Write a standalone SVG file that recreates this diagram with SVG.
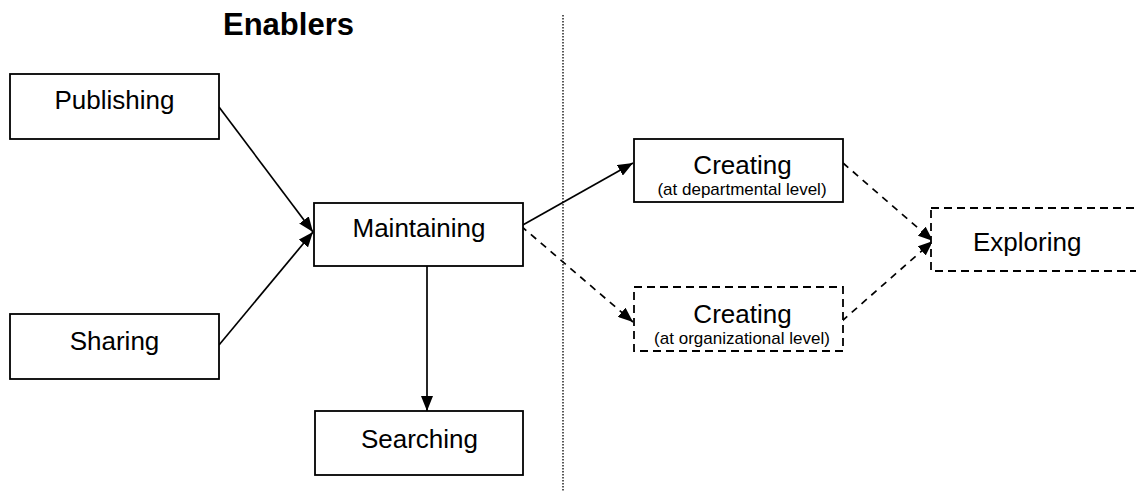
<svg xmlns="http://www.w3.org/2000/svg" width="1136" height="492" viewBox="0 0 1136 492">
<style>
.box{fill:#fff;stroke:#000;stroke-width:1.8}
.dbox{fill:#fff;stroke:#000;stroke-width:1.8;stroke-dasharray:8,5}
.lbl{font-family:"Liberation Sans",Arial,sans-serif;font-size:26px;fill:#000;text-anchor:middle}
.sub{font-family:"Liberation Sans",Arial,sans-serif;font-size:17px;fill:#000;text-anchor:middle}
.ln{stroke:#000;stroke-width:1.7;fill:none}
.dl{stroke:#000;stroke-width:1.7;fill:none;stroke-dasharray:7,6}
.title{font-family:"Liberation Sans",Arial,sans-serif;font-size:31px;font-weight:bold;fill:#000}
</style>
<defs>
<marker id="ah" markerUnits="userSpaceOnUse" markerWidth="15" markerHeight="12" refX="15" refY="6" orient="auto">
<path d="M0,0 L15,6 L0,12 z" fill="#000"/>
</marker>
</defs>
<rect width="1136" height="492" fill="#fff"/>
<text class="title" x="223" y="35">Enablers</text>
<line x1="563" y1="15" x2="563" y2="492" stroke="#000" stroke-width="1.3" stroke-dasharray="1.5,1.5"/>
<g id="connectors">
<line class="ln" x1="219" y1="107" x2="313" y2="232" marker-end="url(#ah)"/>
<line class="ln" x1="219" y1="345" x2="313" y2="232" marker-end="url(#ah)"/>
<line class="ln" x1="427" y1="266" x2="427" y2="411" marker-end="url(#ah)"/>
<line class="ln" x1="521" y1="226" x2="633" y2="163" marker-end="url(#ah)"/>
<line class="dl" x1="521" y1="226" x2="633" y2="322" marker-end="url(#ah)"/>
<line class="dl" x1="843" y1="163" x2="933" y2="241" marker-end="url(#ah)"/>
<line class="dl" x1="842" y1="321" x2="933" y2="241" marker-end="url(#ah)"/>
</g>
<g id="publishing">
<rect class="box" x="10" y="74" width="209" height="65"/>
<text class="lbl" x="114.5" y="109">Publishing</text>
</g>
<g id="sharing">
<rect class="box" x="10" y="314" width="209" height="65"/>
<text class="lbl" x="114.5" y="350">Sharing</text>
</g>
<g id="maintaining">
<rect class="box" x="314" y="203" width="209" height="63"/>
<text class="lbl" x="419" y="237">Maintaining</text>
</g>
<g id="searching">
<rect class="box" x="315" y="411" width="208" height="64"/>
<text class="lbl" x="419.5" y="448">Searching</text>
</g>
<g id="creating-dept">
<rect class="box" x="634" y="139" width="209" height="63"/>
<text class="lbl" x="742.5" y="174">Creating</text>
<text class="sub" x="742" y="195">(at departmental level)</text>
</g>
<g id="creating-org">
<rect class="dbox" x="634" y="287" width="209" height="64"/>
<text class="lbl" x="742.5" y="323">Creating</text>
<text class="sub" x="742" y="344">(at organizational level)</text>
</g>
<g id="exploring">
<rect class="dbox" x="931" y="208" width="215" height="63"/>
<text class="lbl" x="973" y="251" style="text-anchor:start">Exploring</text>
</g>
</svg>
